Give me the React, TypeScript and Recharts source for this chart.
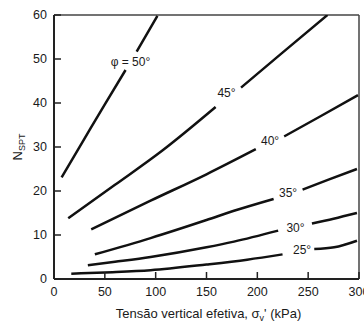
import React from 'react';
import { LineChart, Line, XAxis, YAxis, ReferenceLine, ReferenceDot } from 'recharts';

const xTicks = [0, 50, 100, 150, 200, 250, 300];
const yTicks = [0, 10, 20, 30, 40, 50, 60];

// Effective vertical stress (kPa) and N_SPT for each friction angle; null = break in line for the label
const phi50X = [7.5, 30, 50, 70.4, 76, 81.3, 101.7];
const phi50Y = [23.1, 31.9, 39.7, 47.5, null, 51.7, 59.8];
const phi45X = [14, 60, 106.6, 159, 171, 184, 223, 269];
const phi45Y = [13.8, 21.4, 29.2, 39.1, null, 43.5, 51.1, 60];
const phi40X = [36.6, 95, 150, 198.5, 212, 226.4, 263, 299];
const phi40Y = [11.3, 17.8, 23.8, 29.5, null, 32.4, 37.1, 41.8];
const phi35X = [40.2, 95, 150, 177, 216, 230, 244.5, 270, 298];
const phi35Y = [5.6, 9.3, 13.4, 15.5, 18.2, null, 20.3, 22.6, 25.0];
const phi30X = [33.3, 60, 95, 150, 177, 220.5, 237, 253.7, 275, 298];
const phi30Y = [3.1, 3.9, 5.0, 7.2, 8.5, 11.0, null, 12.6, 13.7, 15.0];
const phi25X = [17, 50, 95, 150, 190, 224.8, 240, 256, 275.6, 298];
const phi25Y = [1.2, 1.5, 2.0, 3.3, 4.4, 5.6, null, 6.8, 7.2, 8.7];

const curveLabels = ['φ = 50°', '45°', '40°', '35°', '30°', '25°'];
const labelX = [75.2, 169.7, 212.5, 230.2, 237.5, 244];
const labelY = [49.3, 42.3, 31.4, 19.5, 11.7, 6.7];

const build = (xs: number[], ys: (number | null)[]) => xs.map((x, i) => ({ x, y: ys[i] }));

const series = [
  build(phi50X, phi50Y),
  build(phi45X, phi45Y),
  build(phi40X, phi40Y),
  build(phi35X, phi35Y),
  build(phi30X, phi30Y),
  build(phi25X, phi25Y),
];

const FONT = '"Liberation Sans", Arial, sans-serif';
const INK = '#1a1a1a';

const XTitle = (props: any) => {
  const vb = props.viewBox || { x: 54, y: 279, width: 305, height: 44 };
  const cx = vb.x + vb.width / 2 + 2;
  const by = vb.y + 39;
  return (
    <text x={cx} y={by} textAnchor="middle" fontSize={13} fill={INK} fontFamily={FONT}>
      Tensão vertical efetiva, σ<tspan fontSize={9} dy={3}>v</tspan>
      <tspan dy={-3}>' (kPa)</tspan>
    </text>
  );
};

const YTitle = () => (
  <text transform="rotate(-90)" x={-147} y={22} textAnchor="middle" fontSize={13} fill={INK} fontFamily={FONT}>
    N<tspan fontSize={9} dy={3}>SPT</tspan>
  </text>
);

export default function App() {
  return (
    <div style={{ position: 'absolute', left: 0, top: 0, width: 364, height: 323, background: '#fff' }}>
      <LineChart width={364} height={323} margin={{ top: 15, right: 5, left: 0, bottom: 0 }} style={{ fontFamily: FONT }}>
        <XAxis
          type="number"
          dataKey="x"
          domain={[0, 300]}
          ticks={xTicks}
          interval={0}
          allowDataOverflow
          height={44}
          tickSize={-7}
          tickMargin={15}
          axisLine={{ stroke: '#222', strokeWidth: 2 }}
          tickLine={{ stroke: '#222', strokeWidth: 1.5 }}
          tick={{ fill: INK, fontSize: 12.5, fontFamily: FONT }}
          label={<XTitle />}
        />
        <YAxis
          type="number"
          dataKey="y"
          domain={[0, 60]}
          ticks={yTicks}
          interval={0}
          allowDataOverflow
          width={54}
          tickSize={-7}
          tickMargin={14}
          axisLine={{ stroke: '#222', strokeWidth: 2 }}
          tickLine={{ stroke: '#222', strokeWidth: 1.5 }}
          tick={{ fill: INK, fontSize: 12.5, fontFamily: FONT }}
          label={<YTitle />}
        />
        <ReferenceLine y={60} stroke="#444" strokeWidth={1.5} ifOverflow="visible" />
        <ReferenceLine x={300} stroke="#444" strokeWidth={1.5} ifOverflow="visible" />
        {series.map((d, i) => (
          <Line
            key={i}
            data={d}
            dataKey="y"
            type="monotone"
            stroke="#111"
            strokeWidth={2.5}
            dot={false}
            activeDot={false}
            connectNulls={false}
            isAnimationActive={false}
          />
        ))}
        {curveLabels.map((t, i) => (
          <ReferenceDot
            key={'l' + i}
            x={labelX[i]}
            y={labelY[i]}
            r={0}
            fill="none"
            stroke="none"
            label={{ value: t, position: 'center', fill: INK, fontSize: 12, fontFamily: FONT }}
          />
        ))}
      </LineChart>
    </div>
  );
}
